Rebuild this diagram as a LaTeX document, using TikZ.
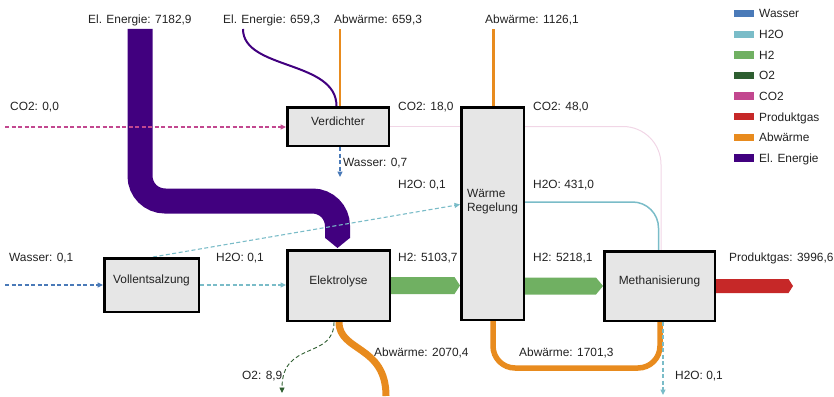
\documentclass[tikz,border=0pt]{standalone}
\usepackage{fontspec}
\setmainfont{Liberation Sans}
\usetikzlibrary{arrows.meta,calc,backgrounds}
\definecolor{cwasser}{HTML}{4A7AB8}
\definecolor{ch2o}{HTML}{7ABCC8}
\definecolor{ch2}{HTML}{70B062}
\definecolor{co2c}{HTML}{2E5E30}
\definecolor{cco2}{HTML}{C2478F}
\definecolor{cprod}{HTML}{C62828}
\definecolor{cabw}{HTML}{E88B1E}
\definecolor{cel}{HTML}{41007F}
\definecolor{boxfill}{HTML}{E6E6E6}
\definecolor{txt}{HTML}{222222}
\newcommand\flowband[5]{%
  \fill[#1] ($(#2)+(0,-#4)$) -- ($(#3)+(-#5,-#4)$) -- (#3) -- ($(#3)+(-#5,#4)$) -- ($(#2)+(0,#4)$) -- cycle;}
\begin{document}
\begin{tikzpicture}[x=1pt,y=-1pt,
  every node/.style={font=\fontsize{11.9}{14}\selectfont, text=txt},
  proc/.style={draw=black, line width=2.5pt, fill=boxfill, inner sep=0pt, text depth=11pt},
  lbl/.style={anchor=west, inner sep=0pt, text height=8.5pt, text depth=2.5pt},
  swatch/.style={minimum width=20pt, minimum height=7.5pt, inner sep=0pt, draw=none},
  dflow/.style={dash pattern=on 4pt off 2.5pt, line width=1.1pt, -{Triangle[length=5.5pt,width=5pt]}},
]
\useasboundingbox (0,0) rectangle (834,396);

% process boxes
\node[proc, minimum width=101.5pt, minimum height=38.5pt] (verd) at (338,126.5) {Verdichter};
\node[proc, minimum width=62.5pt, minimum height=212.5pt,
      label={[align=left, yshift=12.3pt]center:Wärme\\Regelung}] (wr) at (492.5,213.5) {};
\node[proc, minimum width=94.5pt, minimum height=53.5pt] (voll) at (151.5,285) {Vollentsalzung};
\node[proc, minimum width=102.5pt, minimum height=70.5pt] (elek) at (338.5,285.5) {Elektrolyse};
\node[proc, minimum width=110.5pt, minimum height=69.5pt] (meth) at (659.5,286) {Methanisierung};

% free ends
\coordinate (elin) at (140,29);
\coordinate (el2) at (243,29);
\coordinate (abw1) at (340,29);
\coordinate (abw2) at (493,29);
\coordinate (co2in) at (5,127);
\coordinate (w07) at (340,177);
\coordinate (win) at (5,285);
\coordinate (pout) at (793,286);
\coordinate (abw3) at (386,396);
\coordinate (o2out) at (282,393);
\coordinate (h2oout) at (663,395);

\begin{pgfonlayer}{background}
% electric energy (large)
\draw[cel, line width=25pt, rounded corners=25pt]
  (elin) |- ($(elek.north)+(-1,-48)$) -- ($(elek.north)+(-1,-11)$);
\fill[cel] ($(elek.north)+(-13.5,-11.2)$) -- ($(elek.north)+(11.5,-11.2)$) -- ($(elek.north)+(-1,-1)$) -- cycle;
% electric energy (small)
\draw[cel, line width=2pt] (el2) .. controls +(0,41) and +(0,-46) .. ($(verd.north)+(-1.5,0)$);
% waste heat Verdichter
\draw[cabw, line width=2pt] (verd.north -| abw1) -- (abw1);
% waste heat Waerme
\draw[cabw, line width=3pt] (wr.north -| abw2) -- (abw2);
% CO2 in
\draw[dflow, cco2] (co2in) -- (co2in -| verd.west);
% Wasser out of Verdichter
\draw[dflow, cwasser] (verd.south -| w07) -- (w07);
% CO2 18,0
\draw[cco2!22, line width=1pt] (verd.east) -- (verd.east -| wr.west);
% CO2 48,0
\draw[cco2!22, line width=1pt, rounded corners=38pt] (wr.east |- verd.east) -| ($(meth.north)+(1.5,0)$);
% H2O 431,0
\draw[ch2o, line width=1.5pt, rounded corners=26pt] ($(wr.east)+(0,-11.5)$) -| ($(meth.north)+(-1,0)$);
% H2O 0,1 upper
\draw[dflow, ch2o] ($(voll.north)+(1.5,0)$) -- ($(wr.west)+(0,-9)$);
% Wasser in
\draw[dflow, cwasser] (win) -- (voll.west);
% H2O 0,1 lower
\draw[dflow, ch2o] (voll.east) -- (voll.east -| elek.west);
% H2 bands
\flowband{ch2}{elek.east}{elek.east -| wr.west}{8.5}{5.5}
\flowband{ch2}{wr.east |- meth.west}{meth.west}{8.5}{7}
% Produktgas
\flowband{cprod}{meth.east}{pout}{7}{4.5}
% Abwaerme 2070,4
\draw[cabw, line width=7pt] ($(elek.south)+(0.5,0)$) .. controls +(0,30) and +(0,-51) .. (abw3);
% O2
\draw[dflow, co2c, line width=0.9pt] ($(elek.south)+(-4.5,0)$) .. controls +(0,38) and +(0,-53) .. (o2out);
% Abwaerme 1701,3
\draw[cabw, line width=5.5pt, rounded corners=22pt]
  ($(wr.south)+(0.5,0)$) |- ($(meth.south)+(0.5,46)$) -- ($(meth.south)+(0.5,0)$);
% H2O bottom
\draw[dflow, ch2o] (meth.south -| h2oout) -- (h2oout);
\end{pgfonlayer}

% flow labels
\node[lbl] (t1) at (88,20.3) {El. Energie: 7182,9};
\node[lbl] (t2) at (223,20.3) {El. Energie: 659,3};
\node[lbl] (t3) at (334,20.3) {Abwärme: 659,3};
\node[lbl] (t4) at (485,20.3) {Abwärme: 1126,1};
\node[lbl] (t5) at (10,107.3) {CO2: 0,0};
\node[lbl] (t6) at (398,107.3) {CO2: 18,0};
\node[lbl] (t7) at (533,107.3) {CO2: 48,0};
\node[lbl] (t8) at (343,163.3) {Wasser: 0,7};
\node[lbl] (t9) at (398,185.3) {H2O: 0,1};
\node[lbl] (t10) at (533,185.3) {H2O: 431,0};
\node[lbl] (t11) at (9,258.3) {Wasser: 0,1};
\node[lbl] (t12) at (216,258.3) {H2O: 0,1};
\node[lbl] (t13) at (398,258.3) {H2: 5103,7};
\node[lbl] (t14) at (533,258.3) {H2: 5218,1};
\node[lbl] (t15) at (729,258.3) {Produktgas: 3996,6};
\node[lbl] (t16) at (374,353.3) {Abwärme: 2070,4};
\node[lbl] (t17) at (519,353.3) {Abwärme: 1701,3};
\node[lbl] (t18) at (242,376.3) {O2: 8,9};
\node[lbl] (t19) at (675,376.3) {H2O: 0,1};

% legend
\node[swatch, fill=cwasser] (s1) at (744,13.7) {};
\node[swatch, fill=ch2o] (s2) at (744,34.3) {};
\node[swatch, fill=ch2] (s3) at (744,54.9) {};
\node[swatch, fill=co2c] (s4) at (744,75.5) {};
\node[swatch, fill=cco2] (s5) at (744,96.1) {};
\node[swatch, fill=cprod] (s6) at (744,116.7) {};
\node[swatch, fill=cabw] (s7) at (744,137.3) {};
\node[swatch, fill=cel] (s8) at (744,157.9) {};
\node[lbl] (l1) at (759,15) {Wasser};
\node[lbl] (l2) at (759,35.6) {H2O};
\node[lbl] (l3) at (759,56.2) {H2};
\node[lbl] (l4) at (759,76.8) {O2};
\node[lbl] (l5) at (759,97.4) {CO2};
\node[lbl] (l6) at (759,118) {Produktgas};
\node[lbl] (l7) at (759,138.6) {Abwärme};
\node[lbl] (l8) at (759,159.2) {El. Energie};
\end{tikzpicture}
\end{document}
